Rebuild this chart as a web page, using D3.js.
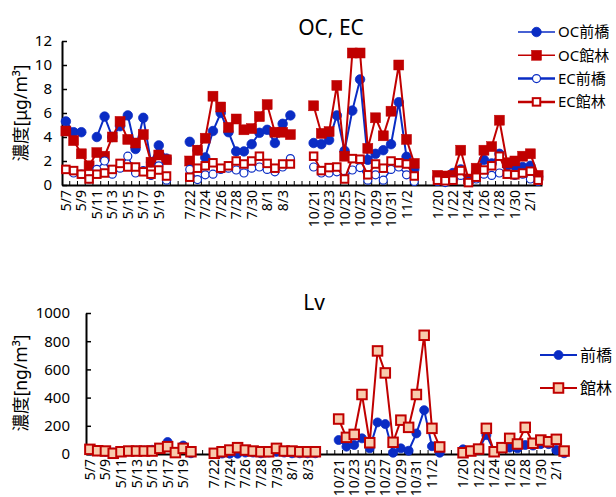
<!DOCTYPE html>
<html>
<head>
<meta charset="utf-8">
<script src="https://cdn.jsdelivr.net/npm/d3@7"></script>
<style>
  body { margin: 0; background: #fff; }
  text { font-family: "Noto Sans", "Noto Sans CJK JP", sans-serif; fill: #000; }
</style>
</head>
<body>
<div id="chart"></div>
<script>
// categories (blank strings are the gaps between sampling periods)
var dates = [
  "5/7","5/8","5/9","5/10","5/11","5/12","5/13","5/14","5/15","5/16","5/17","5/18","5/19","5/20","","",
  "7/22","7/23","7/24","7/25","7/26","7/27","7/28","7/29","7/30","7/31","8/1","8/2","8/3","8/4","","",
  "10/21","10/22","10/23","10/24","10/25","10/26","10/27","10/28","10/29","10/30","10/31","11/1","11/2","11/3","","",
  "1/20","1/21","1/22","1/23","1/24","1/25","1/26","1/27","1/28","1/29","1/30","1/31","2/1","2/2"
];

var ocYTicks = [0, 2, 4, 6, 8, 10, 12];
var lvYTicks = [0, 200, 400, 600, 800, 1000];

var ocMaebashi = [5.3,4.4,4.4,null,4.0,5.7,4.0,4.9,5.8,3.0,5.6,1.9,3.3,2.2, null,null,
  3.6,2.9,2.3,4.5,6.0,4.4,2.8,2.8,3.4,4.35,4.6,3.5,5.1,5.8, null,null,
  3.5,3.4,3.75,5.8,2.85,6.2,8.8,2.1,2.6,2.9,3.4,6.9,2.35,1.3, null,null,
  0.6,0.5,1.0,1.3,0.4,1.0,2.1,1.8,2.6,1.6,1.6,1.5,1.6,0.7];
var ocTatebayashi = [4.5,3.7,2.6,1.6,2.7,2.4,4.0,5.3,3.8,3.5,4.2,1.9,2.5,2.1, null,null,
  2.0,2.9,3.9,7.4,6.5,4.8,5.5,4.6,4.7,5.7,6.7,4.4,4.4,4.2, null,null,
  6.6,4.3,4.45,8.3,2.4,11.0,11.0,3.05,5.6,4.1,6.15,10.0,3.8,1.8, null,null,
  0.8,0.75,0.8,2.9,0.5,1.4,2.9,3.2,5.4,1.85,2.0,2.4,2.6,0.8];
var ecMaebashi = [1.3,1.0,0.9,0.5,1.3,2.0,0.9,1.4,2.4,1.0,1.2,0.8,1.6,0.4, null,null,
  1.3,0.45,0.85,0.9,1.3,1.4,1.25,1.0,1.4,1.5,1.3,1.1,1.5,2.2, null,null,
  1.5,1.0,1.0,1.1,0.55,1.25,1.45,0.4,0.85,0.4,1.3,1.5,0.85,0.3, null,null,
  0.3,0.2,0.4,0.8,0.3,0.5,0.9,0.8,1.0,0.9,0.8,0.9,0.5,0.3];
var ecTatebayashi = [1.3,1.2,0.9,0.5,0.9,1.0,1.3,1.8,1.5,1.5,1.1,0.9,1.25,0.75, null,null,
  0.65,1.4,1.6,1.85,1.4,1.6,2.0,1.75,2.0,2.4,1.8,1.4,1.75,1.75, null,null,
  2.4,1.2,1.45,1.5,0.5,2.2,2.15,0.85,1.75,1.4,2.0,1.85,1.75,0.75, null,null,
  0.4,0.35,0.4,1.2,0.2,0.65,1.25,1.6,2.4,0.9,0.85,1.0,1.15,0.4];

var lvMaebashi = [25,20,15,10,20,20,25,25,30,35,85,10,60,5, null,null,
  5,3,2,2,10,10,5,10,15,10,5,5,5,5, null,null,
  99,52,64,111,40,224,212,9,40,23,146,311,55,9, null,null,
  33,20,30,134,20,42,45,40,64,60,70,70,28,5];
var lvTatebayashi = [33,23,21,5,16,21,21,21,21,40,52,10,40,16, null,null,
  5,16,28,45,28,21,16,16,40,21,21,16,16,16, null,null,
  248,118,139,422,80,731,575,83,240,189,422,842,182,50, null,null,
  9,21,35,182,16,45,111,71,189,76,99,87,104,21];

var BLUE = "#0a2cc4";
var RED = "#c00000";

var svg = d3.select("#chart").append("svg")
  .attr("width", 616).attr("height", 497);

function drawPanel(cfg) {
  var g = svg.append("g");
  var idx = d3.range(dates.length);

  var x = d3.scaleBand().domain(idx).range([cfg.left, cfg.right]);
  var y = d3.scaleLinear().domain(cfg.yDomain).range([cfg.bottom, cfg.top]);

  // y axis
  var yAxis = g.append("g").attr("transform", "translate(" + cfg.left + ",0)")
    .call(d3.axisLeft(y).tickValues(cfg.yTicks).tickFormat(d3.format("d"))
      .tickSizeInner(-5).tickSizeOuter(0).tickPadding(cfg.yPad));
  yAxis.select(".domain").attr("stroke", "#000").attr("stroke-width", 2);
  yAxis.selectAll(".tick line").attr("stroke", "#000").attr("stroke-width", 1.5);
  yAxis.selectAll("text").style("font-size", "15px");

  // x axis
  var xAxis = g.append("g").attr("transform", "translate(0," + cfg.bottom + ")")
    .call(d3.axisBottom(x).tickSize(0).tickSizeOuter(0)
      .tickFormat(function(i) { return i % 2 === 0 ? dates[i] : ""; }));
  xAxis.select(".domain").attr("stroke", "#000").attr("stroke-width", 2);
  xAxis.selectAll("text")
    .attr("transform", "rotate(-90)")
    .attr("x", -5).attr("y", 0).attr("dy", "0.36em")
    .style("text-anchor", "end").style("font-size", "14px");

  // category boundary ticks (pointing up)
  g.append("g").selectAll("line").data(idx.slice(1)).enter().append("line")
    .attr("x1", function(i) { return x(i); }).attr("x2", function(i) { return x(i); })
    .attr("y1", cfg.bottom).attr("y2", cfg.bottom - 4)
    .attr("stroke", "#000").attr("stroke-width", 1);

  var cx = function(i) { return x(i) + x.bandwidth() / 2; };

  cfg.series.forEach(function(s) {
    var line = d3.line()
      .defined(function(d) { return d != null; })
      .x(function(d, i) { return cx(i); })
      .y(function(d) { return y(d); });
    g.append("path").datum(s.values)
      .attr("fill", "none").attr("stroke", s.color).attr("stroke-width", s.lineWidth)
      .attr("d", line);

    var pts = s.values.map(function(v, i) { return { i: i, v: v }; })
      .filter(function(d) { return d.v != null; });
    drawMarkers(g.append("g"), pts, s, function(d) { return cx(d.i); }, function(d) { return y(d.v); });
  });

  // title
  g.append("text").attr("x", cfg.titleX).attr("y", cfg.titleY)
    .attr("text-anchor", "middle").style("font-size", "21px").text(cfg.title);

  // y label
  g.append("text")
    .attr("transform", "translate(" + cfg.labelX + "," + cfg.labelY + ") rotate(-90)")
    .attr("text-anchor", "middle").attr("dy", "0.35em")
    .style("font-size", "17.5px").text(cfg.yLabel);

  // legend
  var lg = g.append("g");
  cfg.series.forEach(function(s, k) {
    var ly = cfg.legend.y + k * cfg.legend.step;
    lg.append("line").attr("x1", cfg.legend.x).attr("x2", cfg.legend.x + 37)
      .attr("y1", ly).attr("y2", ly)
      .attr("stroke", s.color).attr("stroke-width", s.legendWidth || s.lineWidth);
    drawMarkers(lg.append("g"), [0], s, function() { return cfg.legend.x + 18.5; }, function() { return ly; });
    lg.append("text").attr("x", cfg.legend.x + 40).attr("y", ly).attr("dy", "0.36em")
      .style("font-size", cfg.legend.fontSize).text(s.name);
  });
}

function drawMarkers(sel, data, s, fx, fy) {
  if (s.shape === "circle") {
    sel.selectAll("circle").data(data).enter().append("circle")
      .attr("cx", fx).attr("cy", fy).attr("r", s.size / 2)
      .attr("fill", s.fill).attr("stroke", s.stroke).attr("stroke-width", s.strokeWidth);
  } else {
    sel.selectAll("rect").data(data).enter().append("rect")
      .attr("x", function(d) { return fx(d) - s.size / 2; })
      .attr("y", function(d) { return fy(d) - s.size / 2; })
      .attr("width", s.size).attr("height", s.size)
      .attr("fill", s.fill).attr("stroke", s.stroke).attr("stroke-width", s.strokeWidth);
  }
}

drawPanel({
  left: 62, right: 542, top: 41, bottom: 185,
  yDomain: [0, 12], yTicks: ocYTicks, yPad: 10,
  title: "OC, EC", titleX: 331, titleY: 35,
  yLabel: "濃度[μg/m³]", labelX: 21, labelY: 113,
  legend: { x: 518, y: 32, step: 23.3, fontSize: "15px" },
  series: [
    { name: "OC前橋", values: ocMaebashi, color: BLUE, lineWidth: 2, legendWidth: 1.5,
      shape: "circle", size: 9.5, fill: BLUE, stroke: BLUE, strokeWidth: 0.8 },
    { name: "OC館林", values: ocTatebayashi, color: RED, lineWidth: 2, legendWidth: 1.5,
      shape: "rect", size: 10, fill: RED, stroke: RED, strokeWidth: 0.5 },
    { name: "EC前橋", values: ecMaebashi, color: BLUE, lineWidth: 1.5, legendWidth: 2.5,
      shape: "circle", size: 8, fill: "#fff", stroke: BLUE, strokeWidth: 1.2 },
    { name: "EC館林", values: ecTatebayashi, color: RED, lineWidth: 2, legendWidth: 2.5,
      shape: "rect", size: 7.5, fill: "#fff", stroke: RED, strokeWidth: 2 }
  ]
});

drawPanel({
  left: 86, right: 568, top: 313, bottom: 454,
  yDomain: [0, 1000], yTicks: lvYTicks, yPad: 16,
  title: "Lv", titleX: 314, titleY: 310,
  yLabel: "濃度[ng/m³]", labelX: 21, labelY: 383,
  legend: { x: 540, y: 355, step: 33, fontSize: "16px" },
  series: [
    { name: "前橋", values: lvMaebashi, color: BLUE, lineWidth: 2,
      shape: "circle", size: 9, fill: BLUE, stroke: BLUE, strokeWidth: 0.8 },
    { name: "館林", values: lvTatebayashi, color: RED, lineWidth: 2,
      shape: "rect", size: 9.5, fill: "#f8cbad", stroke: RED, strokeWidth: 2 }
  ]
});
</script>
</body>
</html>
